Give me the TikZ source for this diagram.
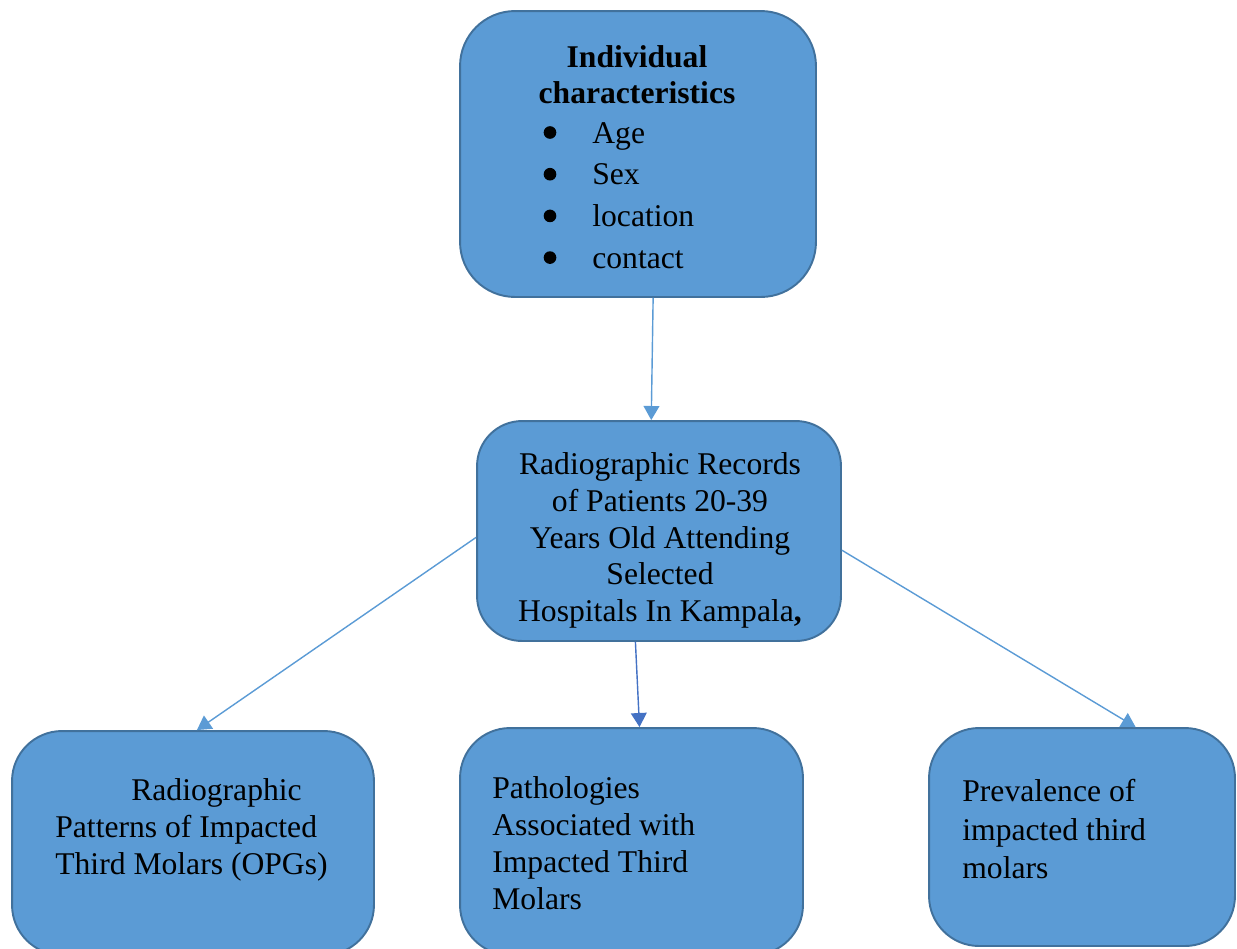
\documentclass[tikz,border=0pt]{standalone}
\usepackage{fontspec}
\setmainfont{Liberation Serif}
\usetikzlibrary{arrows.meta}
\definecolor{boxfill}{HTML}{5B9BD5}
\definecolor{boxline}{HTML}{41719C}
\definecolor{darkarrow}{HTML}{4472C4}
\tikzset{
  box/.style={draw=boxline, fill=boxfill, line width=1.1pt, rectangle, inner sep=0pt},
  txt/.style={inner sep=0pt, font=\fontsize{18}{21}\selectfont},
  link/.style={draw=boxfill, line width=0.8pt, -{Triangle[width=9pt,length=8pt]}}
}
\begin{document}
\begin{tikzpicture}[x=0.02cm, y=-0.02cm]
  \useasboundingbox (0,0) rectangle (1237,948);
  \clip (0,0) rectangle (1237,948);

  % boxes
  \node[box, rounded corners=1.1cm, minimum width=7.12cm, minimum height=5.72cm] (indiv) at (638,154) {};
  \node[box, rounded corners=0.9cm, minimum width=7.28cm, minimum height=4.4cm] (records) at (659,531) {};
  \node[box, rounded corners=1cm, minimum width=7.24cm, minimum height=4.48cm] (patterns) at (193,843) {};
  \node[box, rounded corners=1cm, minimum width=6.86cm, minimum height=4.54cm] (patho) at (631.5,841.5) {};
  \node[box, rounded corners=1cm, minimum width=6.12cm, minimum height=4.36cm] (preval) at (1082,837) {};

  % texts
  \node[txt, anchor=north, align=center, font=\fontsize{18}{20.5}\selectfont\bfseries] (title) at (637,45)
    {Individual\\characteristics};
  \foreach \t [count=\i] in {Age,Sex,location,contact}{
    \fill (550,{132.5+41.7*(\i-1)}) circle (3.6pt);
    \node[txt, anchor=base west] (item\i) at (592,{143+41.7*(\i-1)}) {\t};
  }
  \node[txt, anchor=north, align=center, font=\fontsize{18}{21}\selectfont] (recordstxt) at (660,452)
    {Radiographic Records\\of Patients 20-39\\Years Old Attending\\Selected\\Hospitals In Kampala\textbf{,}};
  \node[txt, anchor=north west, align=left] (patternstxt) at (55,778)
    {\hspace*{1.52cm}Radiographic\\Patterns of Impacted\\Third Molars (OPGs)};
  \node[txt, anchor=north west, align=left] (pathotxt) at (492,776)
    {Pathologies\\Associated with\\Impacted Third\\Molars};
  \node[txt, anchor=north west, align=left, font=\fontsize{18}{22}\selectfont] (prevaltxt) at (962,779)
    {Prevalence of\\impacted third\\molars};

  % connectors
  \draw[link] (indiv.-84) -- (records.94);
  \draw[link] (records.182) -- (patterns.88);
  \draw[link, draw=darkarrow] (records.-102) -- (patho.86);
  \draw[link] (records.-6) -- (preval.64);
\end{tikzpicture}
\end{document}
